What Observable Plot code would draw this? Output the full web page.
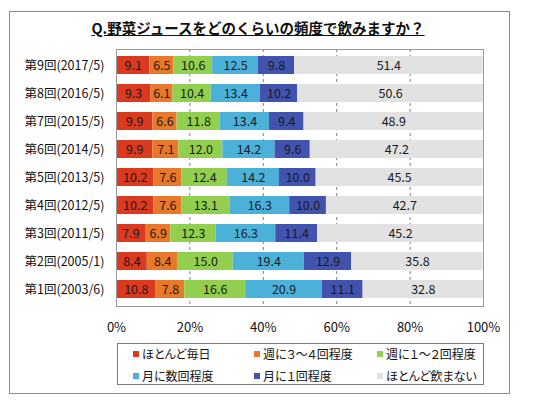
<!DOCTYPE html>
<html><head><meta charset="utf-8">
<script src="https://cdn.jsdelivr.net/npm/d3@7"></script>
<script src="https://cdn.jsdelivr.net/npm/@observablehq/plot@0.6"></script>
<style>
body{margin:0;background:#fff;font-family:"Noto Sans CJK JP",sans-serif;}
#frame{position:absolute;left:9px;top:11px;width:501px;height:383px;border:1px solid #8c8c8c;box-sizing:border-box;}
#title{position:absolute;left:0;top:17px;width:516px;text-align:center;font-weight:bold;font-size:14.5px;text-decoration:underline;color:#111;}
#chart{position:absolute;left:0;top:40px;}
#legend{position:absolute;left:117px;top:343px;width:367px;height:42px;border:1px solid #7a7a7a;box-sizing:border-box;font-size:12px;color:#111;font-feature-settings:"palt";}
.li{position:absolute;display:flex;align-items:center;white-space:nowrap;}
.sw{width:6px;height:6px;margin-right:3px;}
</style></head><body>
<div id="frame"></div>
<div id="title">Q.野菜ジュースをどのくらいの頻度で飲みますか？</div>
<div id="chart"></div>
<div id="legend"></div>
<script>
const rounds = ["第9回(2017/5)","第8回(2016/5)","第7回(2015/5)","第6回(2014/5)","第5回(2013/5)","第4回(2012/5)","第3回(2011/5)","第2回(2005/1)","第1回(2003/6)"];
const categories = ["ほとんど毎日","週に３～４回程度","週に１～２回程度","月に数回程度","月に１回程度","ほとんど飲まない"];
const colors = ["#d93a20","#e8782a","#92cf4f","#4cb1d8","#4253ad","#e2e2e2"];
const daily    = [9.1, 9.3, 9.9, 9.9, 10.2, 10.2, 7.9, 8.4, 10.8];
const week34   = [6.5, 6.1, 6.6, 7.1, 7.6, 7.6, 6.9, 8.4, 7.8];
const week12   = [10.6, 10.4, 11.8, 12.0, 12.4, 13.1, 12.3, 15.0, 16.6];
const monthFew = [12.5, 13.4, 13.4, 14.2, 14.2, 16.3, 16.3, 19.4, 20.9];
const month1   = [9.8, 10.2, 9.4, 9.6, 10.0, 10.0, 11.4, 12.9, 11.1];
const rarely   = [51.4, 50.6, 48.9, 47.2, 45.5, 42.7, 45.2, 35.8, 32.8];
const xTicks = [0, 20, 40, 60, 80, 100];
const gridTicks = [20, 40, 60, 80];

const series = [daily, week34, week12, monthFew, month1, rarely];
const data = [];
series.forEach((vals, ci) => vals.forEach((v, ri) => data.push({round: rounds[ri], cat: categories[ci], value: v})));

const chart = Plot.plot({
  width: 540, height: 300,
  marginLeft: 116, marginRight: 57, marginTop: 9, marginBottom: 34,
  style: {fontFamily: '"Noto Sans CJK JP", sans-serif', fontSize: "12.5px", color: "#111", background: "transparent"},
  x: {domain: [0, 100], label: null},
  y: {domain: rounds, paddingInner: 0.34, paddingOuter: 0.15, label: null},
  color: {domain: categories, range: colors},
  marks: [
    Plot.ruleX(gridTicks, {stroke: "#808080", strokeDasharray: "3,3", strokeWidth: 1}),
    Plot.barX(data, {x: "value", y: "round", fill: "cat"}),
    Plot.text(data, Plot.stackX({x: "value", y: "round", z: "cat", text: d => d.value.toFixed(1), fill: "#1a1a1a", fontSize: 12.5})),
    Plot.frame({stroke: "#9a9a9a"}),
    Plot.axisX({ticks: xTicks, tickFormat: d => d + "%", tickSize: 0, tickPadding: 16, fontSize: 13, label: null}),
    Plot.axisY({tickSize: 0, tickPadding: 12, fontSize: 12.5, label: null})
  ]
});
document.getElementById("chart").appendChild(chart);

const legend = document.getElementById("legend");
const colX = [15, 136, 259];
const rowY = [10, 32];
categories.forEach((c, i) => {
  const el = document.createElement("div");
  el.className = "li";
  el.style.left = colX[i % 3] + "px";
  el.style.top = (rowY[Math.floor(i / 3)] - 9) + "px";
  el.innerHTML = `<span class="sw" style="background:${colors[i]}"></span><span>${c}</span>`;
  legend.appendChild(el);
});
</script>
</body></html>
